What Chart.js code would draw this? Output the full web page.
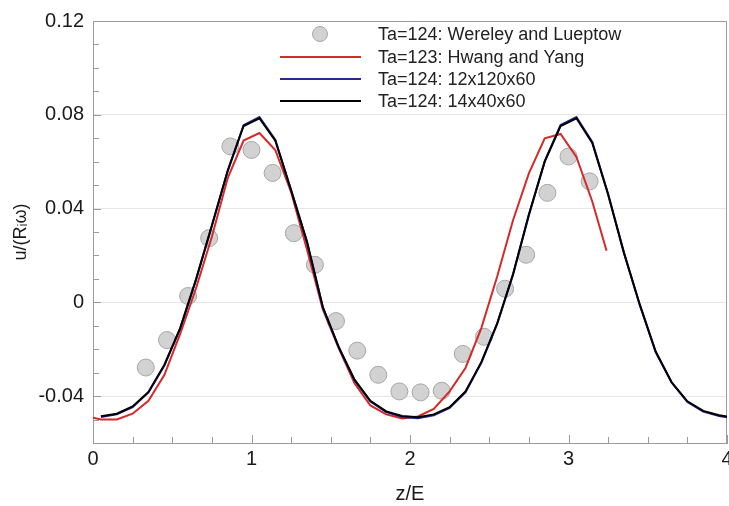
<!DOCTYPE html>
<html>
<head>
<meta charset="utf-8">
<script src="https://cdn.jsdelivr.net/npm/chart.js@4.4.1/dist/chart.umd.min.js"></script>
<style>
  html, body { margin: 0; padding: 0; background: #fff; }
</style>
</head>
<body>
<canvas id="c" width="729" height="506"></canvas>
<script>
// experiment (Wereley and Lueptow)
const zExp = [0.333, 0.467, 0.6, 0.733, 0.867, 1.0, 1.133, 1.267, 1.4, 1.533, 1.667,
  1.8, 1.933, 2.067, 2.2, 2.333, 2.467, 2.6, 2.733, 2.867, 3.0, 3.133];
const uExp = [-0.0278, -0.0161, 0.0027, 0.0274, 0.0665, 0.0650, 0.0552, 0.0295, 0.0160, -0.0080, -0.0206,
  -0.0309, -0.0380, -0.0384, -0.0377, -0.0220, -0.0147, 0.0058, 0.0203, 0.0467, 0.0622, 0.0516];

// Hwang and Yang
const zRed = [0, 0.05, 0.15, 0.25, 0.35, 0.45, 0.55, 0.65, 0.75, 0.85, 0.95, 1.05, 1.15, 1.25, 1.35,
  1.45, 1.55, 1.65, 1.75, 1.85, 1.95, 2.05, 2.15, 2.25, 2.35, 2.45, 2.55, 2.65, 2.75, 2.85, 2.95,
  3.05, 3.15, 3.24];
const uRed = [-0.0492, -0.0500, -0.0500, -0.0475, -0.0420, -0.0310, -0.0135, 0.0060, 0.0280, 0.0530,
  0.0690, 0.0722, 0.0650, 0.0470, 0.0225, -0.0030, -0.0195, -0.0345, -0.0440, -0.0478, -0.0495,
  -0.0487, -0.0455, -0.0380, -0.0280, -0.0110, 0.0110, 0.0350, 0.0550, 0.0700, 0.0718, 0.0620,
  0.0430, 0.0220];

// 12x120x60
const zBlue = [0.05, 0.15, 0.25, 0.35, 0.45, 0.55, 0.65, 0.75, 0.85, 0.95, 1.05, 1.15, 1.25, 1.35,
  1.45, 1.55, 1.65, 1.75, 1.85, 1.95, 2.05, 2.15, 2.25, 2.35, 2.45, 2.55, 2.65, 2.75, 2.85, 2.95,
  3.05, 3.15, 3.25, 3.35, 3.45, 3.55, 3.65, 3.75, 3.85, 3.95, 4.0];
const uBlue = [-0.0489, -0.0478, -0.0447, -0.0384, -0.0270, -0.0112, 0.0096, 0.0326, 0.0560, 0.0756,
  0.0790, 0.0694, 0.0478, 0.0258, -0.0022, -0.0192, -0.0332, -0.0423, -0.0468, -0.0489, -0.0494,
  -0.0482, -0.0450, -0.0384, -0.0258, -0.0092, 0.0118, 0.0372, 0.0602, 0.0756, 0.0790, 0.0684,
  0.0462, 0.0212, -0.0012, -0.0212, -0.0342, -0.0425, -0.0466, -0.0485, -0.0490];

// 14x40x60
const zBlack = [0.05, 0.15, 0.25, 0.35, 0.45, 0.55, 0.65, 0.75, 0.85, 0.95, 1.05, 1.15, 1.25, 1.35,
  1.45, 1.55, 1.65, 1.75, 1.85, 1.95, 2.05, 2.15, 2.25, 2.35, 2.45, 2.55, 2.65, 2.75, 2.85, 2.95,
  3.05, 3.15, 3.25, 3.35, 3.45, 3.55, 3.65, 3.75, 3.85, 3.95, 4.0];
const uBlack = [-0.0486, -0.0475, -0.0444, -0.0382, -0.0267, -0.0110, 0.0098, 0.0328, 0.0562, 0.0752,
  0.0785, 0.0690, 0.0478, 0.0258, -0.0020, -0.0190, -0.0330, -0.0420, -0.0465, -0.0485, -0.0490,
  -0.0478, -0.0447, -0.0380, -0.0255, -0.0090, 0.0120, 0.0375, 0.0600, 0.0752, 0.0785, 0.0680,
  0.0460, 0.0210, -0.0010, -0.0210, -0.0340, -0.0422, -0.0463, -0.0482, -0.0487];

const xTicks = [0, 1, 2, 3, 4];
const yTicks = [-0.04, 0, 0.04, 0.08, 0.12];
const yTickLabels = ['-0.04', '0', '0.04', '0.08', '0.12'];

const FONT = '"Liberation Sans", Arial, sans-serif';

function pts(xs, ys) {
  return xs.map((x, i) => ({ x: x, y: ys[i] }));
}

// inward ticks + top/right frame
const frameTicks = {
  id: 'frameTicks',
  beforeDatasetsDraw(chart) {
    const { ctx, chartArea: a, scales: { x, y } } = chart;
    ctx.save();
    ctx.strokeStyle = '#9a9a9a';
    ctx.lineWidth = 1;
    ctx.beginPath();
    ctx.moveTo(a.left, a.top + 0.5);
    ctx.lineTo(a.right - 0.5, a.top + 0.5);
    ctx.lineTo(a.right - 0.5, a.bottom);
    ctx.stroke();
    ctx.beginPath();
    for (let k = -6; k <= 12; k++) {
      const py = Math.round(y.getPixelForValue(k / 100)) + 0.5;
      const len = (k % 4 === 0) ? 8 : 6;
      ctx.moveTo(a.left, py);
      ctx.lineTo(a.left + len, py);
    }
    for (let k = 0; k <= 16; k++) {
      const px = Math.round(x.getPixelForValue(k / 4)) + 0.5;
      const len = (k % 4 === 0) ? 8 : 6;
      ctx.moveTo(px, a.bottom);
      ctx.lineTo(px, a.bottom - len);
    }
    ctx.stroke();
    ctx.restore();
  }
};

// legend in the plot
const innerLegend = {
  id: 'innerLegend',
  afterDatasetsDraw(chart) {
    const ctx = chart.ctx;
    const rows = [34, 57, 79, 101];
    ctx.save();
    ctx.font = '18px ' + FONT;
    ctx.textBaseline = 'middle';
    chart.data.datasets.forEach((ds, i) => {
      const yy = rows[i];
      if (ds.showLine) {
        ctx.strokeStyle = ds.borderColor;
        ctx.lineWidth = 2;
        ctx.beginPath();
        ctx.moveTo(280, yy);
        ctx.lineTo(361, yy);
        ctx.stroke();
      } else {
        ctx.fillStyle = ds.backgroundColor;
        ctx.strokeStyle = ds.borderColor;
        ctx.lineWidth = 1;
        ctx.beginPath();
        ctx.arc(320, yy, 7.5, 0, Math.PI * 2);
        ctx.fill();
        ctx.stroke();
      }
      ctx.fillStyle = '#222';
      ctx.fillText(ds.label, 378, yy + 1);
    });
    ctx.restore();
  }
};

new Chart(document.getElementById('c'), {
  type: 'scatter',
  data: {
    datasets: [
      {
        label: 'Ta=124: Wereley and Lueptow',
        data: pts(zExp, uExp),
        showLine: false,
        pointRadius: 8.5,
        backgroundColor: '#d2d2d2',
        borderColor: '#a6a6a6',
        borderWidth: 1,
        order: 4
      },
      {
        label: 'Ta=123: Hwang and Yang',
        data: pts(zRed, uRed),
        showLine: true,
        pointRadius: 0,
        borderColor: '#d42a2a',
        borderWidth: 2,
        order: 3
      },
      {
        label: 'Ta=124: 12x120x60',
        data: pts(zBlue, uBlue),
        showLine: true,
        pointRadius: 0,
        borderColor: '#28289a',
        borderWidth: 2,
        order: 2
      },
      {
        label: 'Ta=124: 14x40x60',
        data: pts(zBlack, uBlack),
        showLine: true,
        pointRadius: 0,
        borderColor: '#000000',
        borderWidth: 2,
        order: 1
      }
    ]
  },
  options: {
    responsive: false,
    animation: false,
    events: [],
    layout: { autoPadding: false, padding: { top: 20, right: 2, left: 0, bottom: 0 } },
    plugins: {
      legend: { display: false },
      tooltip: { enabled: false }
    },
    scales: {
      x: {
        type: 'linear',
        min: 0,
        max: 4,
        afterBuildTicks: s => { s.ticks = xTicks.map(v => ({ value: v })); },
        afterFit: s => { s.height = 63; s.paddingRight = 0; s.paddingLeft = 0; },
        grid: { display: false, drawTicks: false },
        border: { display: true, color: '#9a9a9a', width: 1 },
        ticks: {
          padding: 4,
          color: '#1a1a1a',
          font: { family: FONT, size: 20 },
          maxRotation: 0,
          callback: v => String(v)
        },
        title: {
          display: true,
          text: 'z/E',
          color: '#1a1a1a',
          font: { family: FONT, size: 20 },
          padding: { top: 12, bottom: 0 }
        }
      },
      y: {
        type: 'linear',
        min: -0.06,
        max: 0.12,
        afterBuildTicks: s => { s.ticks = yTicks.map(v => ({ value: v })); },
        afterFit: s => { s.width = 93; },
        grid: { display: true, color: '#e6e6e6', drawTicks: false },
        border: { display: true, color: '#9a9a9a', width: 1 },
        ticks: {
          padding: 9,
          color: '#1a1a1a',
          font: { family: FONT, size: 20 },
          callback: v => yTickLabels[yTicks.findIndex(t => Math.abs(t - v) < 1e-9)] ?? ''
        },
        title: {
          display: true,
          text: 'u/(Rᵢω)',
          color: '#1a1a1a',
          font: { family: FONT, size: 18 },
          padding: { top: 10, bottom: 0 }
        }
      }
    }
  },
  plugins: [frameTicks, innerLegend]
});
</script>
</body>
</html>
